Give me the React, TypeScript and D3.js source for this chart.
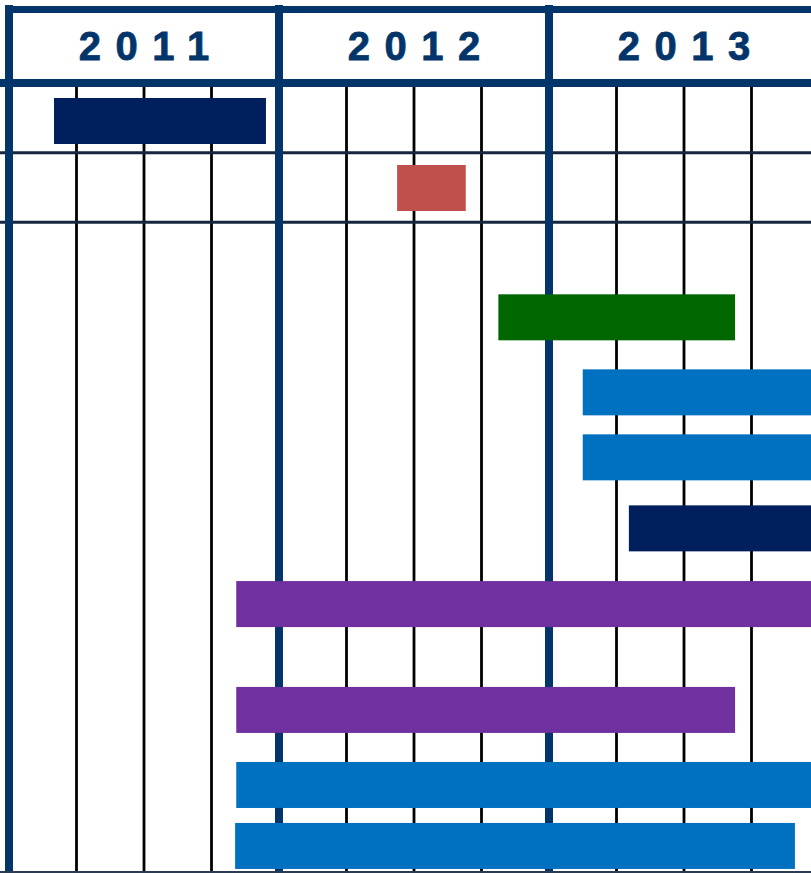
import React, { useEffect, useRef } from 'react';
import * as d3 from 'd3';

// timeline in months since Jan 2011
const years = ['2011', '2012', '2013'];
const quarterMonths = [3, 6, 9, 15, 18, 21, 27, 30, 33];
const yearMonths = [0, 12, 24];

// tasks: start / end month, lane (row position), colour
const taskStart = [2.0, 17.25, 21.75, 25.5, 25.5, 27.55, 10.1, 10.1, 10.1, 10.05];
const taskEnd = [11.42, 20.3, 32.27, 36, 36, 36, 36, 32.27, 36, 34.93];
const taskLane = [0, 1, 2.93, 4.05, 5.02, 6.08, 7.21, 8.79, 9.91, 10.82];
const taskColor = ['#001f5c', '#c0504d', '#006600', '#0070c0', '#0070c0', '#001f5c', '#7030a0', '#7030a0', '#0070c0', '#0070c0'];
const separatorLanes = [0.48, 1.52];

const W = 811;
const H = 873;

export default function App() {
  const ref = useRef<SVGSVGElement>(null);

  useEffect(() => {
    const svg = d3.select(ref.current);
    svg.selectAll('*').remove();

    const x = d3.scaleLinear().domain([0, 36]).range([9, 819]);
    const y = d3.scaleLinear().domain([0, 1]).range([121, 188]);
    const barH = 46;
    const border = '#03356a';

    svg.append('rect').attr('width', W).attr('height', H).attr('fill', '#fff');

    // quarter lines
    svg
      .selectAll('.q')
      .data(quarterMonths)
      .enter()
      .append('line')
      .attr('x1', (d) => x(d))
      .attr('x2', (d) => x(d))
      .attr('y1', 85)
      .attr('y2', H)
      .attr('stroke', '#000')
      .attr('stroke-width', 2.8);

    // row separators
    svg
      .selectAll('.sep')
      .data(separatorLanes)
      .enter()
      .append('line')
      .attr('x1', 0)
      .attr('x2', W)
      .attr('y1', (d) => y(d) - 0.5)
      .attr('y2', (d) => y(d) - 0.5)
      .attr('stroke', '#17263f')
      .attr('stroke-width', 3);

    // year lines
    svg
      .selectAll('.yr')
      .data(yearMonths)
      .enter()
      .append('line')
      .attr('x1', (d) => x(d))
      .attr('x2', (d) => x(d))
      .attr('y1', 5)
      .attr('y2', H)
      .attr('stroke', border)
      .attr('stroke-width', 8);

    // header
    svg.append('line').attr('x1', 5).attr('x2', W).attr('y1', 9.5).attr('y2', 9.5)
      .attr('stroke', border).attr('stroke-width', 7);
    svg.append('line').attr('x1', 0).attr('x2', W).attr('y1', 83).attr('y2', 83)
      .attr('stroke', border).attr('stroke-width', 8);

    const spacing = 14.5;
    svg
      .selectAll('.yl')
      .data(years)
      .enter()
      .append('text')
      .attr('x', (d, i) => x(i * 12 + 6) + spacing / 2)
      .attr('y', 60)
      .attr('text-anchor', 'middle')
      .attr('font-family', '"Liberation Sans", Arial, sans-serif')
      .attr('font-weight', 'bold')
      .attr('font-size', 40)
      .attr('letter-spacing', spacing)
      .attr('fill', border)
      .attr('stroke', border)
      .attr('stroke-width', 0.8)
      .text((d) => d);

    // task bars
    svg
      .selectAll('.bar')
      .data(taskStart)
      .enter()
      .append('rect')
      .attr('x', (d) => x(d))
      .attr('y', (d, i) => y(taskLane[i]) - barH / 2)
      .attr('width', (d, i) => x(taskEnd[i]) - x(d))
      .attr('height', barH)
      .attr('fill', (d, i) => taskColor[i]);

    // bottom edge
    svg.append('line').attr('x1', 0).attr('x2', W).attr('y1', 872).attr('y2', 872)
      .attr('stroke', '#2b3b52').attr('stroke-width', 2);
  }, []);

  return (
    <svg
      ref={ref}
      width={W}
      height={H}
      style={{ position: 'absolute', left: 0, top: 0, display: 'block' }}
    />
  );
}
